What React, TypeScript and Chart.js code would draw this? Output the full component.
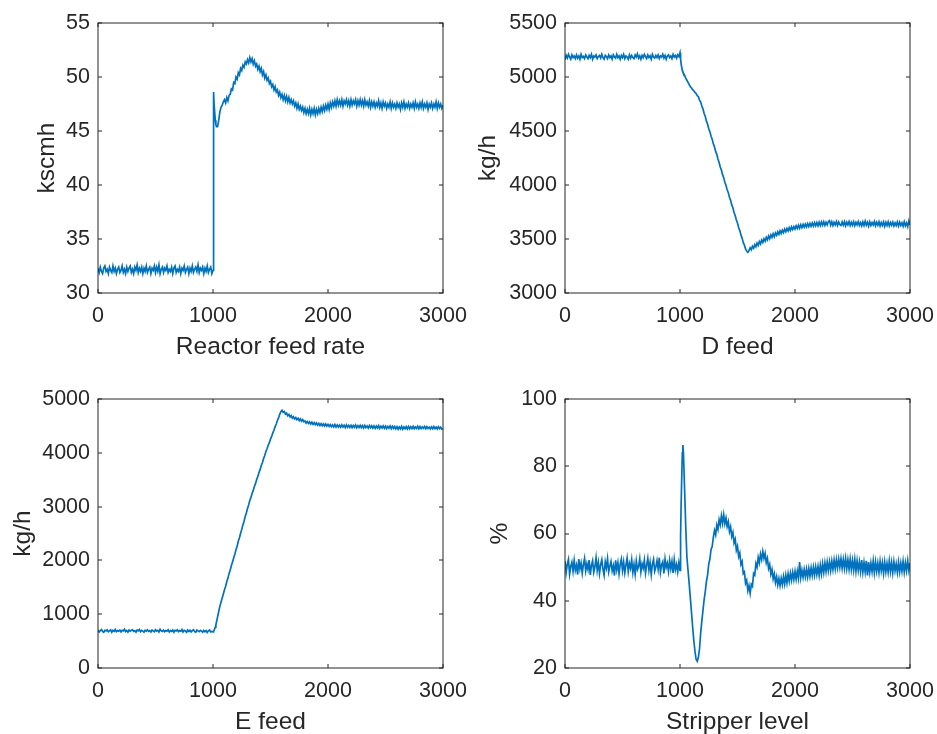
import React, { useEffect, useRef } from "react";
import { Chart, registerables } from "chart.js";

Chart.register(...registerables);

// ---------------- data ----------------
const time = [
  0, 10, 20, 30, 40, 50, 60, 70, 80, 90,
  100, 110, 120, 130, 140, 150, 160, 170, 180, 190,
  200, 210, 220, 230, 240, 250, 260, 270, 280, 290,
  300, 310, 320, 330, 340, 350, 360, 370, 380, 390,
  400, 410, 420, 430, 440, 450, 460, 470, 480, 490,
  500, 510, 520, 530, 540, 550, 560, 570, 580, 590,
  600, 610, 620, 630, 640, 650, 660, 670, 680, 690,
  700, 710, 720, 730, 740, 750, 760, 770, 780, 790,
  800, 810, 820, 830, 840, 850, 860, 870, 880, 890,
  900, 910, 920, 930, 940, 950, 960, 970, 980, 990,
  1000, 1005, 1010, 1020, 1025, 1030, 1040, 1050, 1060, 1070, 1080, 1090,
  1100, 1110, 1120, 1130, 1140, 1150, 1160, 1170, 1180, 1190,
  1200, 1210, 1220, 1230, 1240, 1250, 1260, 1270, 1280, 1290,
  1300, 1310, 1320, 1330, 1340, 1350, 1360, 1370, 1380, 1390,
  1400, 1410, 1420, 1430, 1440, 1450, 1460, 1470, 1480, 1490,
  1500, 1510, 1520, 1530, 1540, 1550, 1560, 1570, 1580, 1590,
  1600, 1610, 1620, 1630, 1640, 1650, 1660, 1670, 1680, 1690,
  1700, 1710, 1720, 1730, 1740, 1750, 1760, 1770, 1780, 1790,
  1800, 1810, 1820, 1830, 1840, 1850, 1860, 1870, 1880, 1890,
  1900, 1910, 1920, 1930, 1940, 1950, 1960, 1970, 1980, 1990,
  2000, 2010, 2020, 2030, 2040, 2050, 2060, 2070, 2080, 2090,
  2100, 2110, 2120, 2130, 2140, 2150, 2160, 2170, 2180, 2190,
  2200, 2210, 2220, 2230, 2240, 2250, 2260, 2270, 2280, 2290,
  2300, 2310, 2320, 2330, 2340, 2350, 2360, 2370, 2380, 2390,
  2400, 2410, 2420, 2430, 2440, 2450, 2460, 2470, 2480, 2490,
  2500, 2510, 2520, 2530, 2540, 2550, 2560, 2570, 2580, 2590,
  2600, 2610, 2620, 2630, 2640, 2650, 2660, 2670, 2680, 2690,
  2700, 2710, 2720, 2730, 2740, 2750, 2760, 2770, 2780, 2790,
  2800, 2810, 2820, 2830, 2840, 2850, 2860, 2870, 2880, 2890,
  2900, 2910, 2920, 2930, 2940, 2950, 2960, 2970, 2980, 2990,
  3000,
];

const reactorFeedRate = [
  32.3, 31.9, 32.4, 32.0, 31.8, 32.3, 32.5, 32.0, 32.2, 31.8,
  32.4, 32.1, 31.9, 32.5, 32.0, 32.3, 31.8, 32.2, 32.4, 31.9,
  32.1, 32.5, 31.9, 32.2, 31.8, 32.4, 32.0, 32.3, 32.5, 31.9,
  32.2, 31.8, 32.4, 32.1, 32.6, 31.9, 32.3, 32.0, 32.4, 31.8,
  32.3, 32.0, 32.5, 31.9, 32.2, 32.4, 31.8, 32.3, 32.1, 32.5,
  31.9, 32.4, 32.0, 32.6, 31.8, 32.2, 32.4, 31.9, 32.3, 32.1,
  32.5, 31.9, 32.2, 32.0, 32.4, 31.8, 32.3, 32.5, 31.9, 32.2,
  32.0, 32.4, 31.8, 32.3, 32.1, 32.5, 31.9, 32.2, 32.4, 31.8,
  32.3, 32.0, 32.5, 31.9, 32.2, 32.4, 32.0, 32.6, 31.9, 32.3,
  32.1, 32.4, 31.8, 32.3, 32.0, 32.5, 31.9, 32.2, 32.4, 31.8,
  32.1, 48.6, 47.4, 46.0, 45.6, 45.4, 45.4, 46.0, 46.8, 47.2, 47.4, 47.7,
  47.9, 47.6, 48.1, 47.8, 48.3, 48.4, 48.9, 48.8, 49.5, 49.4,
  50.0, 49.8, 50.4, 50.2, 50.8, 50.6, 51.1, 50.9, 51.4, 51.2,
  51.6, 51.3, 51.8, 51.4, 51.7, 51.2, 51.5, 51.0, 51.2, 50.7,
  51.0, 50.5, 50.8, 50.2, 50.5, 49.9, 50.2, 49.7, 49.9, 49.4,
  49.6, 49.1, 49.3, 48.8, 49.1, 48.6, 48.8, 48.3, 48.6, 48.1,
  48.4, 47.9, 48.3, 47.8, 48.2, 47.7, 48.1, 47.6, 47.9, 47.5,
  47.8, 47.3, 47.6, 47.1, 47.5, 47.0, 47.3, 46.9, 47.2, 46.7,
  47.1, 46.6, 47.0, 46.6, 47.1, 46.5, 47.0, 46.6, 47.1, 46.5,
  47.0, 46.6, 47.1, 46.7, 47.2, 46.8, 47.3, 46.9, 47.4, 47.0,
  47.5, 47.0, 47.6, 47.2, 47.7, 47.3, 47.8, 47.3, 47.9, 47.4,
  47.8, 47.4, 47.9, 47.3, 47.8, 47.5, 47.9, 47.4, 47.8, 47.3,
  47.9, 47.4, 47.8, 47.5, 47.9, 47.3, 47.8, 47.4, 47.9, 47.4,
  47.8, 47.3, 47.9, 47.4, 47.7, 47.3, 47.8, 47.2, 47.7, 47.3,
  47.7, 47.2, 47.6, 47.3, 47.8, 47.2, 47.6, 47.1, 47.7, 47.3,
  47.6, 47.1, 47.5, 47.2, 47.7, 47.1, 47.6, 47.2, 47.5, 47.1,
  47.6, 47.2, 47.5, 47.0, 47.6, 47.2, 47.7, 47.1, 47.5, 47.2,
  47.6, 47.1, 47.5, 47.2, 47.6, 47.1, 47.7, 47.2, 47.5, 47.1,
  47.6, 47.2, 47.7, 47.1, 47.5, 47.2, 47.6, 47.0, 47.5, 47.2,
  47.6, 47.1, 47.5, 47.2, 47.7, 47.1, 47.6, 47.2, 47.5, 47.1,
  47.4,
];

const dFeed = [
  5160, 5200, 5175, 5210, 5185, 5165, 5205, 5180, 5195, 5170,
  5205, 5175, 5195, 5165, 5210, 5180, 5190, 5170, 5205, 5185,
  5170, 5200, 5180, 5210, 5165, 5195, 5185, 5205, 5170, 5190,
  5200, 5175, 5210, 5180, 5165, 5200, 5190, 5170, 5205, 5180,
  5195, 5165, 5205, 5185, 5175, 5210, 5180, 5195, 5165, 5200,
  5180, 5210, 5170, 5195, 5185, 5165, 5205, 5175, 5200, 5180,
  5170, 5205, 5185, 5215, 5175, 5195, 5165, 5200, 5180, 5210,
  5190, 5170, 5205, 5180, 5195, 5165, 5210, 5185, 5175, 5200,
  5180, 5205, 5170, 5195, 5185, 5210, 5175, 5200, 5165, 5195,
  5205, 5180, 5195, 5170, 5210, 5185, 5200, 5175, 5205, 5190,
  5225, 5170, 5120, 5060, 5045, 5035, 5015, 4990, 4970, 4950, 4930, 4910,
  4898, 4882, 4873, 4857, 4848, 4826, 4818, 4786, 4768, 4731,
  4703, 4662, 4634, 4591, 4563, 4521, 4494, 4451, 4424, 4381,
  4353, 4311, 4284, 4241, 4209, 4166, 4138, 4096, 4068, 4026,
  3998, 3956, 3929, 3886, 3858, 3816, 3789, 3746, 3718, 3676,
  3648, 3606, 3578, 3536, 3508, 3468, 3443, 3408, 3388, 3376,
  3392, 3418, 3400, 3432, 3415, 3448, 3428, 3462, 3440, 3476,
  3455, 3490, 3468, 3502, 3480, 3515, 3492, 3528, 3502, 3538,
  3515, 3548, 3522, 3556, 3535, 3566, 3542, 3575, 3552, 3582,
  3560, 3592, 3568, 3598, 3575, 3605, 3580, 3612, 3588, 3615,
  3592, 3622, 3598, 3628, 3600, 3632, 3605, 3635, 3610, 3638,
  3612, 3642, 3615, 3645, 3618, 3648, 3620, 3650, 3622, 3652,
  3622, 3655, 3625, 3658, 3628, 3660, 3626, 3655, 3630, 3662,
  3670, 3628, 3660, 3625, 3655, 3630, 3662, 3626, 3658, 3632,
  3625, 3658, 3628, 3660, 3622, 3655, 3630, 3662, 3625, 3656,
  3628, 3660, 3624, 3655, 3630, 3662, 3626, 3652, 3622, 3658,
  3625, 3665, 3628, 3655, 3620, 3660, 3626, 3652, 3630, 3662,
  3622, 3655, 3628, 3660, 3620, 3652, 3625, 3658, 3618, 3655,
  3625, 3660, 3622, 3652, 3628, 3656, 3620, 3650, 3625, 3658,
  3620, 3655, 3626, 3650, 3618, 3660, 3622, 3648, 3615, 3668,
  3630,
];

const eFeed = [
  705, 670, 695, 715, 680, 665, 700, 690, 710, 675,
  690, 710, 665, 700, 680, 715, 675, 695, 685, 705,
  670, 700, 690, 720, 675, 695, 665, 705, 685, 700,
  710, 680, 695, 665, 705, 690, 715, 675, 700, 685,
  665, 700, 685, 710, 680, 695, 670, 705, 690, 675,
  710, 685, 700, 670, 720, 690, 680, 705, 675, 695,
  685, 710, 670, 695, 680, 705, 665, 700, 690, 710,
  675, 695, 685, 715, 670, 700, 690, 665, 705, 680,
  700, 670, 695, 710, 680, 665, 705, 690, 675, 700,
  685, 665, 700, 675, 695, 660, 690, 705, 670, 680,
  670, 685, 705, 760, 800, 850, 950, 1050, 1150, 1225, 1300, 1375,
  1455, 1520, 1606, 1671, 1755, 1820, 1905, 1968, 2050, 2116,
  2200, 2268, 2355, 2421, 2505, 2574, 2660, 2728, 2815, 2881,
  2965, 3031, 3115, 3171, 3245, 3301, 3375, 3431, 3505, 3561,
  3635, 3691, 3765, 3821, 3895, 3951, 4025, 4074, 4140, 4188,
  4255, 4304, 4370, 4418, 4485, 4534, 4600, 4648, 4715, 4765,
  4790, 4752, 4768, 4718, 4738, 4690, 4712, 4668, 4692, 4645,
  4670, 4628, 4655, 4615, 4642, 4600, 4630, 4588, 4618, 4578,
  4592, 4552, 4580, 4545, 4575, 4535, 4568, 4528, 4560, 4522,
  4555, 4515, 4548, 4508, 4542, 4502, 4538, 4498, 4535, 4495,
  4528, 4490, 4522, 4485, 4520, 4482, 4525, 4478, 4518, 4480,
  4515, 4476, 4520, 4478, 4512, 4470, 4518, 4475, 4510, 4472,
  4512, 4468, 4508, 4474, 4515, 4465, 4505, 4470, 4510, 4466,
  4505, 4462, 4510, 4468, 4500, 4460, 4508, 4465, 4502, 4458,
  4500, 4455, 4498, 4462, 4505, 4452, 4495, 4460, 4500, 4455,
  4495, 4450, 4490, 4458, 4498, 4448, 4492, 4455, 4488, 4445,
  4485, 4438, 4480, 4445, 4490, 4440, 4482, 4448, 4488, 4442,
  4490, 4445, 4485, 4450, 4492, 4448, 4480, 4452, 4495, 4446,
  4488, 4450, 4482, 4455, 4490, 4448, 4485, 4452, 4478, 4445,
  4482, 4448, 4488, 4450, 4480, 4442, 4485, 4450, 4475, 4440,
  4448,
];

const stripperLevel = [
  51.8, 48.4, 50.9, 52.3, 47.9, 50.2, 51.5, 48.8, 52.0, 49.1,
  50.6, 47.8, 52.4, 49.5, 51.2, 48.2, 50.8, 52.6, 48.9, 51.0,
  49.3, 52.1, 47.7, 50.5, 51.9, 48.5, 50.1, 52.8, 49.0, 51.4,
  48.1, 50.7, 52.2, 49.4, 47.6, 51.6, 49.8, 52.5, 48.6, 50.3,
  51.7, 48.9, 50.4, 47.5, 52.0, 49.2, 51.3, 48.0, 50.9, 52.4,
  49.0, 51.5, 48.3, 50.6, 52.7, 48.7, 51.1, 49.6, 52.2, 48.4,
  50.8, 47.9, 51.8, 49.3, 50.2, 52.5, 48.6, 51.0, 49.7, 52.1,
  48.2, 50.5, 52.6, 49.1, 51.4, 47.8, 50.9, 52.3, 48.8, 50.0,
  51.9, 49.4, 52.8, 48.5, 50.7, 51.6, 48.1, 52.4, 49.9, 51.2,
  48.7, 52.0, 49.5, 51.7, 48.3, 52.2, 49.2, 50.8, 48.6, 51.3,
  49.0, 59.0, 69.0, 84.0, 86.3, 84.0, 73.0, 62.0, 53.0, 49.0, 45.0, 40.8,
  36.5, 32.2, 28.2, 25.0, 22.6, 22.0, 23.2, 25.8, 30.5, 34.0,
  37.2, 40.4, 42.8, 45.8, 47.7, 50.9, 52.4, 55.3, 56.1, 58.9,
  60.9, 59.6, 62.5, 61.2, 64.1, 62.6, 65.3, 63.0, 65.6, 62.9,
  64.6, 62.1, 63.5, 60.6, 62.0, 59.1, 60.3, 57.2, 58.3, 55.0,
  56.2, 53.1, 54.2, 50.8, 51.7, 48.1, 48.6, 45.2, 46.1, 43.0,
  44.5, 42.2, 44.9, 44.3, 48.1, 47.6, 51.1, 50.0, 52.9, 51.3,
  53.9, 52.3, 54.7, 52.6, 54.1, 51.3, 52.6, 49.6, 50.8, 47.9,
  49.3, 46.5, 48.0, 45.4, 47.1, 44.7, 46.6, 44.5, 46.7, 44.8,
  47.2, 45.0, 47.6, 45.3, 48.0, 45.8, 48.2, 46.1, 48.5, 46.3,
  48.7, 46.4, 48.8, 46.7, 51.5, 46.9, 49.1, 47.0, 49.3, 47.1,
  49.4, 47.1, 49.6, 47.3, 49.8, 47.5, 50.0, 47.6, 50.1, 47.8,
  50.2, 47.6, 50.6, 48.0, 51.0, 48.4, 51.3, 48.7, 51.5, 49.0,
  51.6, 49.0, 51.8, 49.3, 52.1, 49.5, 52.2, 49.8, 52.4, 49.9,
  52.5, 49.7, 52.3, 49.6, 52.6, 49.5, 52.2, 49.4, 52.4, 49.3,
  52.0, 49.1, 52.3, 48.8, 51.9, 49.0, 51.6, 48.7, 52.1, 48.5,
  51.4, 48.6, 51.9, 47.5, 51.5, 48.5, 51.2, 48.7, 51.8, 48.3,
  51.6, 48.8, 51.2, 48.4, 51.7, 48.9, 51.3, 48.2, 51.5, 48.6,
  51.1, 48.5, 51.8, 48.7, 51.4, 48.3, 51.6, 48.9, 51.0, 48.4,
  51.5, 48.6, 51.2, 48.8, 51.7, 48.5, 51.3, 48.9, 51.9, 49.0,
  51.2,
];

const seriesList = [reactorFeedRate, dFeed, eFeed, stripperLevel];
const xAxisTitles = ["Reactor feed rate", "D feed", "E feed", "Stripper level"];
const yAxisTitles = ["kscmh", "kg/h", "kg/h", "%"];
const xMin = 0;
const xMax = 3000;
const xStep = 1000;
const yMins = [30, 3000, 0, 20];
const yMaxs = [55, 5500, 5000, 100];
const ySteps = [5, 500, 1000, 20];

// ---------------- layout / style ----------------
const LINE_COLOR = "#0072BD";
const AXIS_COLOR = "#262626";
const FONT = "'Liberation Sans', Arial, Helvetica, sans-serif";
const TICK_SIZE = 21.5;
const TITLE_SIZE = 24.5;

type PanelLayout = {
  left: number; top: number; width: number; height: number;
  yWidth: number; padTop: number; padRight: number; xHeight: number;
  yTitlePad: number; xTitlePad: number;
};

const PANELS: PanelLayout[] = [
  { left: 0, top: 0, width: 468, height: 367, yWidth: 98, padTop: 23, padRight: 25, xHeight: 74, yTitlePad: 34.5, xTitlePad: 8 },
  { left: 468, top: 0, width: 469, height: 367, yWidth: 97, padTop: 23, padRight: 27, xHeight: 74, yTitlePad: 8, xTitlePad: 8 },
  { left: 0, top: 367, width: 468, height: 367, yWidth: 98, padTop: 32, padRight: 25, xHeight: 66, yTitlePad: 10.5, xTitlePad: 0 },
  { left: 468, top: 367, width: 469, height: 367, yWidth: 97, padTop: 32, padRight: 27, xHeight: 66, yTitlePad: 20, xTitlePad: 0 },
];

const boxPlugin = {
  id: "matlabBox",
  afterDraw(chart: any) {
    const { ctx, chartArea: a, scales } = chart;
    const tl = 4;
    ctx.save();
    ctx.strokeStyle = AXIS_COLOR;
    ctx.lineWidth = 1;
    ctx.strokeRect(a.left, a.top, a.right - a.left, a.bottom - a.top);
    ctx.beginPath();
    scales.x.ticks.forEach((t: any) => {
      const px = Math.round(scales.x.getPixelForValue(t.value));
      ctx.moveTo(px, a.bottom);
      ctx.lineTo(px, a.bottom - tl);
      ctx.moveTo(px, a.top);
      ctx.lineTo(px, a.top + tl);
    });
    scales.y.ticks.forEach((t: any) => {
      const py = Math.round(scales.y.getPixelForValue(t.value));
      ctx.moveTo(a.left, py);
      ctx.lineTo(a.left + tl, py);
      ctx.moveTo(a.right, py);
      ctx.lineTo(a.right - tl, py);
    });
    ctx.stroke();
    ctx.restore();
  },
};

function Panel({ idx }: { idx: number }) {
  const ref = useRef<HTMLCanvasElement | null>(null);
  const p = PANELS[idx];
  useEffect(() => {
    if (!ref.current) return;
    const values = seriesList[idx];
    const data = time.map((t, i) => ({ x: t, y: values[i] }));
    const chart = new Chart(ref.current, {
      type: "line",
      data: {
        datasets: [
          {
            data,
            borderColor: LINE_COLOR,
            borderWidth: 1.7,
            pointRadius: 0,
            tension: 0,
            fill: false,
          },
        ],
      },
      options: {
        responsive: false,
        animation: false,
        parsing: false,
        normalized: true,
        layout: { padding: { left: 0, top: p.padTop, right: p.padRight, bottom: 0 } },
        plugins: { legend: { display: false }, tooltip: { enabled: false } },
        scales: {
          x: {
            type: "linear",
            min: xMin,
            max: xMax,
            grid: { display: false, drawTicks: false },
            border: { display: false },
            afterFit: (s: any) => {
              s.height = p.xHeight;
              s.paddingLeft = 0;
              s.paddingRight = 0;
            },
            ticks: {
              stepSize: xStep,
              maxRotation: 0,
              autoSkip: false,
              padding: 12,
              color: AXIS_COLOR,
              font: { family: FONT, size: TICK_SIZE, lineHeight: 1 },
              callback: (v: any) => String(v),
            },
            title: {
              display: true,
              text: xAxisTitles[idx],
              color: AXIS_COLOR,
              font: { family: FONT, size: TITLE_SIZE, lineHeight: 1 },
              padding: { top: 0, bottom: p.xTitlePad },
            },
          },
          y: {
            type: "linear",
            min: yMins[idx],
            max: yMaxs[idx],
            grid: { display: false, drawTicks: false },
            border: { display: false },
            afterFit: (s: any) => {
              s.width = p.yWidth;
              s.paddingTop = 0;
              s.paddingBottom = 0;
            },
            ticks: {
              stepSize: ySteps[idx],
              padding: 8,
              color: AXIS_COLOR,
              font: { family: FONT, size: TICK_SIZE, lineHeight: 1 },
              callback: (v: any) => String(v),
            },
            title: {
              display: true,
              text: yAxisTitles[idx],
              color: AXIS_COLOR,
              font: { family: FONT, size: TITLE_SIZE, lineHeight: 1 },
              padding: { top: p.yTitlePad, bottom: 0 },
            },
          },
        },
      },
      plugins: [boxPlugin],
    } as any);
    return () => chart.destroy();
  }, [idx]);
  return (
    <canvas
      ref={ref}
      width={p.width}
      height={p.height}
      style={{ position: "absolute", left: p.left, top: p.top, width: p.width, height: p.height }}
    />
  );
}

export default function App() {
  return (
    <div style={{ position: "absolute", left: 0, top: 0, width: 937, height: 734, background: "#fff", overflow: "hidden" }}>
      {PANELS.map((_, i) => (
        <Panel key={i} idx={i} />
      ))}
    </div>
  );
}
